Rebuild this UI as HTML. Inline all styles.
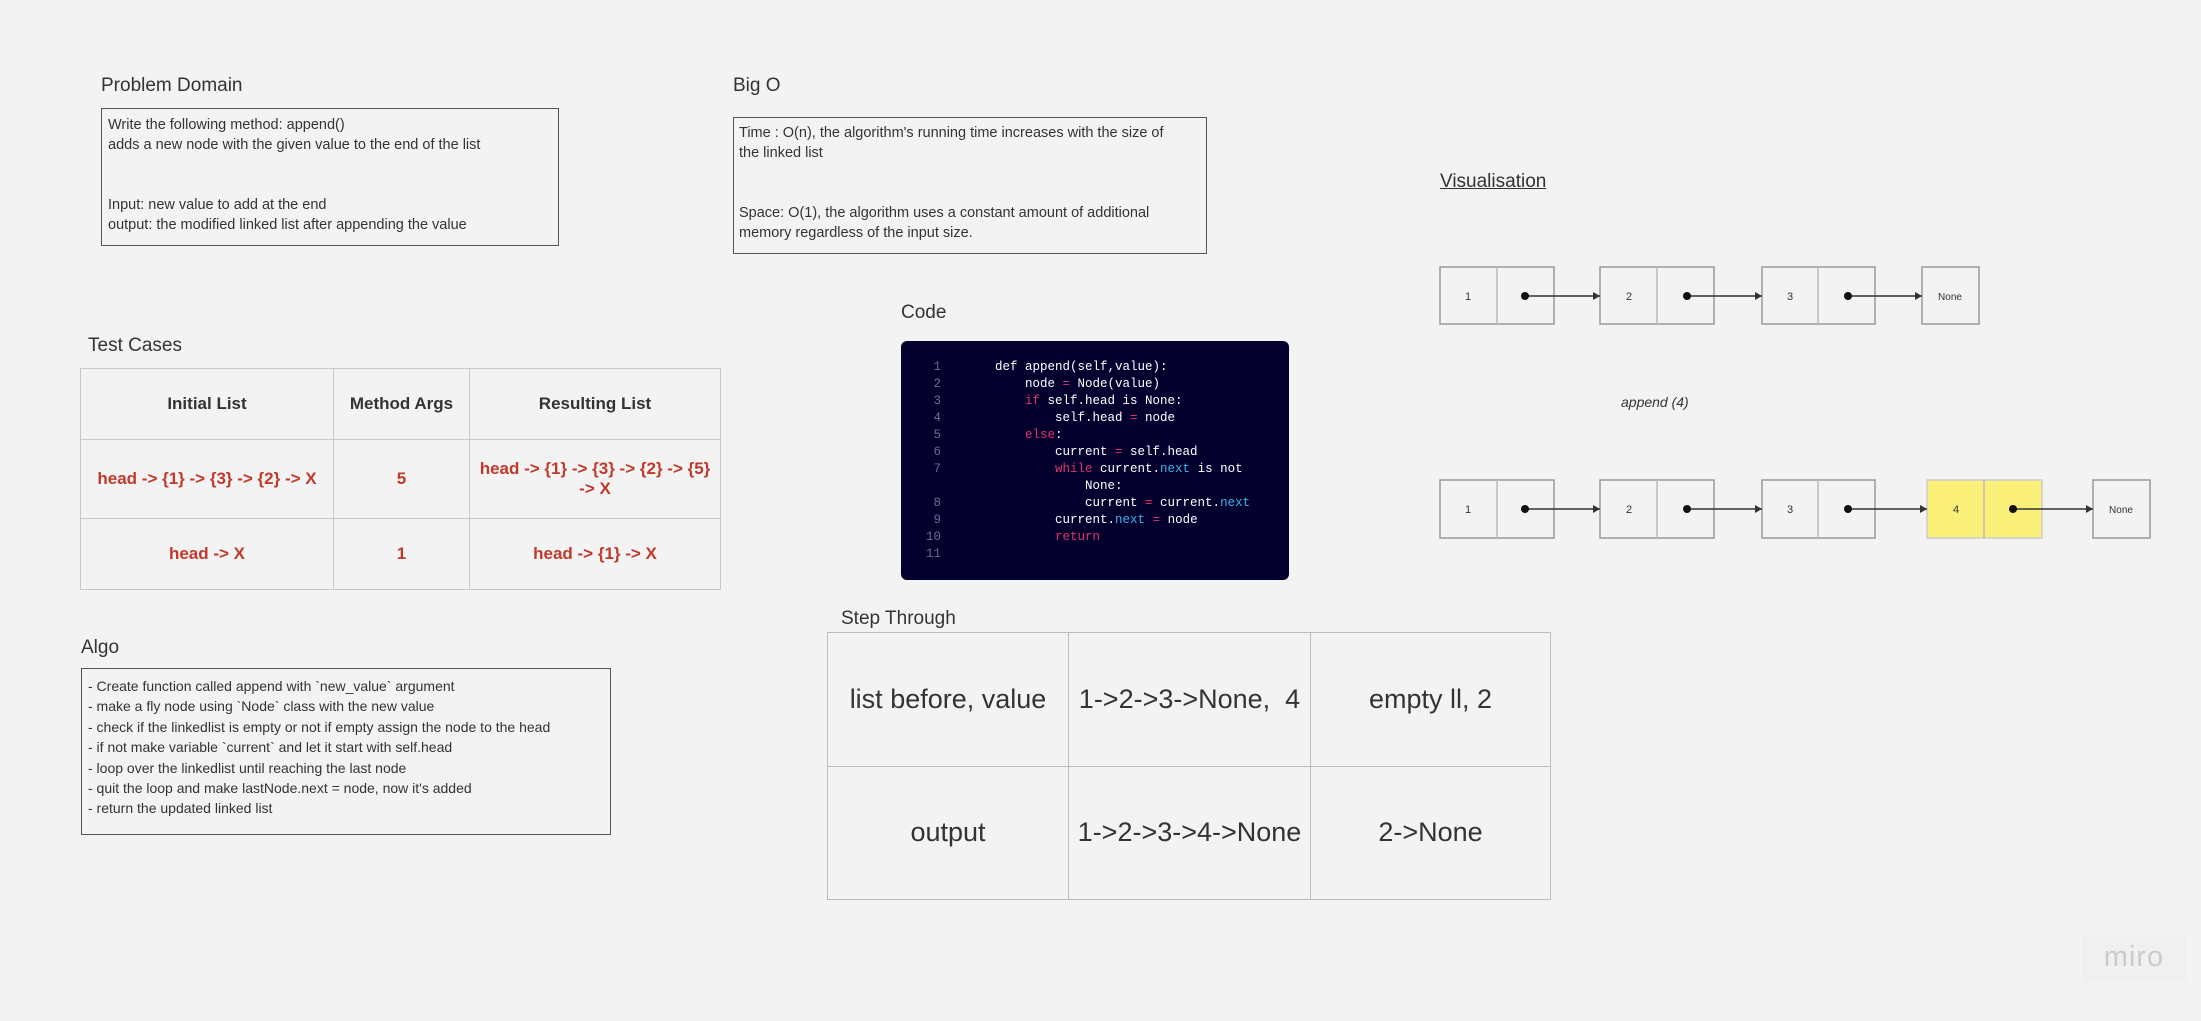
<!DOCTYPE html>
<html><head><meta charset="utf-8"><style>
*{margin:0;padding:0;box-sizing:border-box}
body{width:2201px;height:1021px;background:#f3f3f3;position:relative;overflow:hidden;font-family:"Liberation Sans",sans-serif;color:#222}
.a{position:absolute;white-space:nowrap}
.t{font-size:19px;color:#333}
.box{position:absolute;border:1.5px solid #555;background:#f3f3f3}
.tx{font-size:14.5px;line-height:20px;color:#333}
table{border-collapse:collapse;position:absolute}
td{border:1.5px solid #c8c8c8;text-align:center;vertical-align:middle}
.tc td{font-weight:bold;font-size:17px;color:#c0392b}
.tc tr:first-child td{color:#333}
.code{position:absolute;left:901px;top:341px;width:388px;height:239px;background:#04002e;border-radius:6px;font-family:"Liberation Mono",monospace;font-size:12.5px;line-height:17px;color:#fff}
.ln{position:absolute;left:20px;width:20px;text-align:right;color:#6a6c8a}
.cl{position:absolute;left:94px;white-space:pre}
.k{color:#e0336c}.n{color:#38b6e8}.o{color:#e0336c}
.st td{font-size:27px;color:#333;border-color:#bbb}
</style></head><body>

<div class="a t" style="left:101px;top:75px">Problem Domain</div>
<div class="box" style="left:101px;top:108px;width:458px;height:138px"></div>
<div class="a tx" style="left:108px;top:115px">Write the following method: append()<br>adds a new node with the given value to the end of the list<br><br><br>Input: new value to add at the end<br>output: the modified linked list after appending the value</div>

<div class="a t" style="left:733px;top:75px">Big O</div>
<div class="box" style="left:733px;top:117px;width:474px;height:137px"></div>
<div class="a tx" style="left:739px;top:123px">Time : O(n), the algorithm's running time increases with the size of<br>the linked list<br><br><br>Space: O(1), the algorithm uses a constant amount of additional<br>memory regardless of the input size.</div>

<div class="a t" style="left:88px;top:335px">Test Cases</div>
<table class="tc" style="left:80px;top:368px;width:641px;height:222px">
<tr style="height:71px"><td style="width:253px">Initial List</td><td style="width:136px">Method Args</td><td>Resulting List</td></tr>
<tr style="height:79px"><td>head -&gt; {1} -&gt; {3} -&gt; {2} -&gt; X</td><td>5</td><td>head -&gt; {1} -&gt; {3} -&gt; {2} -&gt; {5}<br>-&gt; X</td></tr>
<tr><td>head -&gt; X</td><td>1</td><td>head -&gt; {1} -&gt; X</td></tr>
</table>

<div class="a t" style="left:901px;top:302px">Code</div>
<div class="code">
<div class="ln" style="top:18px">1</div><div class="ln" style="top:35px">2</div><div class="ln" style="top:52px">3</div><div class="ln" style="top:69px">4</div><div class="ln" style="top:86px">5</div><div class="ln" style="top:103px">6</div><div class="ln" style="top:120px">7</div><div class="ln" style="top:154px">8</div><div class="ln" style="top:171px">9</div><div class="ln" style="top:188px">10</div><div class="ln" style="top:205px">11</div>
<div class="cl" style="top:18px">def append(self,value):</div>
<div class="cl" style="top:35px">    node <span class="o">=</span> Node(value)</div>
<div class="cl" style="top:52px">    <span class="k">if</span> self.head is None:</div>
<div class="cl" style="top:69px">        self.head <span class="o">=</span> node</div>
<div class="cl" style="top:86px">    <span class="k">else</span>:</div>
<div class="cl" style="top:103px">        current <span class="o">=</span> self.head</div>
<div class="cl" style="top:120px">        <span class="k">while</span> current.<span class="n">next</span> is not</div>
<div class="cl" style="top:137px">            None:</div>
<div class="cl" style="top:154px">            current <span class="o">=</span> current.<span class="n">next</span></div>
<div class="cl" style="top:171px">        current.<span class="n">next</span> <span class="o">=</span> node</div>
<div class="cl" style="top:188px">        <span class="k">return</span></div>
</div>

<div class="a t" style="left:81px;top:637px">Algo</div>
<div class="box" style="left:81px;top:668px;width:530px;height:167px"></div>
<div class="a" style="left:88px;top:676px;font-size:14px;line-height:20.4px;color:#333">- Create function called append with `new_value` argument<br>- make a fly node using `Node` class with the new value<br>- check if the linkedlist is empty or not if empty assign the node to the head<br>- if not make variable `current` and let it start with self.head<br>- loop over the linkedlist until reaching the last node<br>- quit the loop and make lastNode.next = node, now it's added<br>- return the updated linked list</div>

<div class="a t" style="left:841px;top:608px">Step Through</div>
<table class="st" style="left:827px;top:632px;width:724px;height:268px">
<tr><td style="width:241px">list before, value</td><td style="width:242px">1-&gt;2-&gt;3-&gt;None,&nbsp; 4</td><td>empty ll, 2</td></tr>
<tr><td>output</td><td>1-&gt;2-&gt;3-&gt;4-&gt;None</td><td>2-&gt;None</td></tr>
</table>

<div class="a t" style="left:1440px;top:171px;text-decoration:underline">Visualisation</div>
<div class="a" style="left:1621px;top:394px;font-size:14px;font-style:italic;color:#333">append (4)</div>

<svg class="a" style="left:0;top:0" width="2201" height="1021">
<defs><marker id="ar" markerWidth="8" markerHeight="8" refX="7" refY="4" orient="auto" markerUnits="userSpaceOnUse"><path d="M0,0 L7,4 L0,8 Z" fill="#333"/></marker></defs>
<g font-family="Liberation Sans" font-size="11" fill="#333" text-anchor="middle" stroke-width="1.5">
<g stroke="#999" fill="none">
<rect x="1440" y="267" width="114" height="57"/><line x1="1497" y1="267" x2="1497" y2="324" stroke="#bbb"/>
<rect x="1600" y="267" width="114" height="57"/><line x1="1657" y1="267" x2="1657" y2="324" stroke="#bbb"/>
<rect x="1762" y="267" width="113" height="57"/><line x1="1818" y1="267" x2="1818" y2="324" stroke="#bbb"/>
<rect x="1922" y="267" width="57" height="57"/>
<rect x="1440" y="480" width="114" height="58"/><line x1="1497" y1="480" x2="1497" y2="538" stroke="#bbb"/>
<rect x="1600" y="480" width="114" height="58"/><line x1="1657" y1="480" x2="1657" y2="538" stroke="#bbb"/>
<rect x="1762" y="480" width="113" height="58"/><line x1="1818" y1="480" x2="1818" y2="538" stroke="#bbb"/>
<rect x="1927" y="480" width="115" height="58" fill="#fbf17a" stroke="#ccc"/><line x1="1984" y1="480" x2="1984" y2="538" stroke="#bbb"/>
<rect x="2093" y="480" width="57" height="58"/>
</g>
<g stroke="#333" marker-end="url(#ar)">
<line x1="1525" y1="296" x2="1600" y2="296"/><line x1="1687" y1="296" x2="1762" y2="296"/><line x1="1848" y1="296" x2="1922" y2="296"/>
<line x1="1525" y1="509" x2="1600" y2="509"/><line x1="1687" y1="509" x2="1762" y2="509"/><line x1="1848" y1="509" x2="1927" y2="509"/><line x1="2013" y1="509" x2="2093" y2="509"/>
</g>
<g fill="#111"><circle cx="1525" cy="296" r="4"/><circle cx="1687" cy="296" r="4"/><circle cx="1848" cy="296" r="4"/><circle cx="1525" cy="509" r="4"/><circle cx="1687" cy="509" r="4"/><circle cx="1848" cy="509" r="4"/><circle cx="2013" cy="509" r="4"/></g>
<text x="1468" y="300">1</text><text x="1629" y="300">2</text><text x="1790" y="300">3</text><text x="1950" y="300" font-size="10">None</text>
<text x="1468" y="513">1</text><text x="1629" y="513">2</text><text x="1790" y="513">3</text><text x="1956" y="513">4</text><text x="2121" y="513" font-size="10">None</text>
</g>
</svg>

<div class="a" style="left:2082px;top:936px;width:104px;height:46px;background:#f0f0f0"></div>
<div class="a" style="left:2082px;top:941px;width:104px;text-align:center;font-size:29px;color:#cacacf;letter-spacing:1px">miro</div>
</body></html>
